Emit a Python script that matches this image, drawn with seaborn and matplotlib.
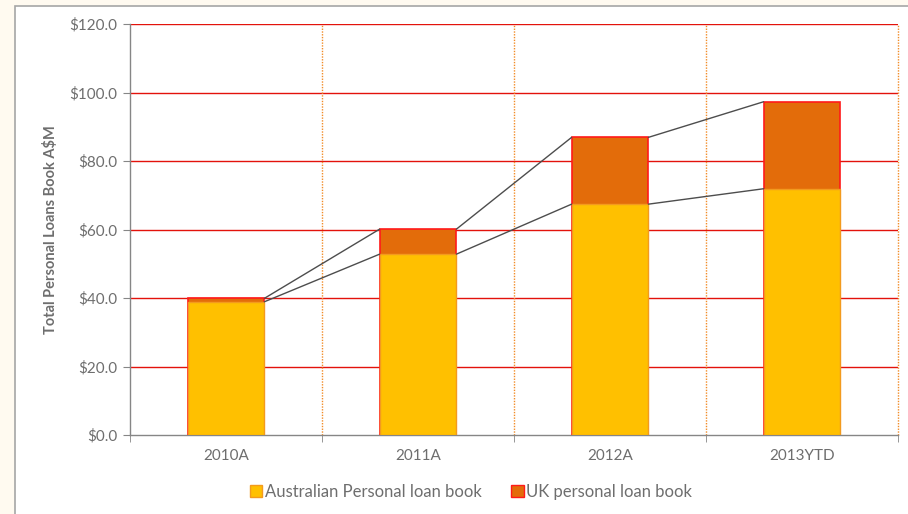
import seaborn as sns
import matplotlib.pyplot as plt
import matplotlib.patches as mpatches
from matplotlib.ticker import FixedLocator
import numpy as np

years = ['2010A', '2011A', '2012A', '2013YTD']
aus_book = [38.9, 52.8, 67.4, 71.9]
uk_book = [1.0, 7.3, 19.5, 25.4]
total_book = [a + u for a, u in zip(aus_book, uk_book)]

aus_fill = '#FFC000'
aus_edge = '#F39A1E'
uk_fill = '#E36C0A'
uk_edge = '#FF1A1A'
text_grey = '#6E6E6E'

sns.set_style('white')
plt.rcParams['font.family'] = ['Lato', 'DejaVu Sans']

fig = plt.figure(figsize=(9.08, 5.14), dpi=100, facecolor='#FFFAF0')
# white chart area with grey border (behind the axes)
fig.patches.append(mpatches.Rectangle((15 / 908, -0.1), 1.0, 1.1 - 6 / 514,
                                      transform=fig.transFigure, facecolor='white',
                                      edgecolor='#A6A6A6', linewidth=1.2, zorder=-10))
ax = fig.add_axes([130 / 908, 79 / 514, 768 / 908, 411 / 514])
ax.set_facecolor('none')

# stacked bars: total first (UK colour), Australian on top of it
sns.barplot(x=years, y=total_book, ax=ax, color=uk_fill, width=0.4,
            edgecolor=uk_edge, linewidth=1.2, saturation=1, zorder=3)
sns.barplot(x=years, y=aus_book, ax=ax, color=aus_fill, width=0.4,
            edgecolor=aus_edge, linewidth=1.0, saturation=1, zorder=4)

# connector lines between bars
for i in range(len(years) - 1):
    for vals in (aus_book, total_book):
        ax.plot([i + 0.2, i + 0.8], [vals[i], vals[i + 1]], color='#4D4D4D',
                linewidth=1.0, zorder=5)

ax.set_xlim(-0.5, 3.5)
ax.set_ylim(0, 120)
ax.set_yticks(np.arange(0, 121, 20))
ax.set_yticklabels(['${:.1f}'.format(v) for v in np.arange(0, 121, 20)])

for y in np.arange(20, 121, 20):
    ax.axhline(y, color='#E3120B', linewidth=1.0, zorder=1)
for x in [0.5, 1.5, 2.5, 3.5]:
    ax.axvline(x, color='#F28C28', linewidth=1.0, linestyle=(0, (1, 1)),
               zorder=1, clip_on=False)

ax.xaxis.set_minor_locator(FixedLocator([-0.5, 0.5, 1.5, 2.5, 3.5]))
ax.tick_params(axis='x', which='major', length=0, pad=10, labelsize=11, labelcolor=text_grey)
ax.tick_params(axis='x', which='minor', length=5, color='#868686', direction='out', bottom=True)
ax.tick_params(axis='y', length=5, color='#868686', direction='out', left=True,
               labelsize=11, labelcolor=text_grey, pad=4)

for side in ['top', 'right']:
    ax.spines[side].set_visible(False)
for side in ['left', 'bottom']:
    ax.spines[side].set_color('#868686')
    ax.spines[side].set_linewidth(1.0)

ax.set_ylabel('Total Personal Loans Book A$M', fontsize=10.5, fontweight='bold',
              color=text_grey, labelpad=8)

handles = [mpatches.Patch(facecolor=aus_fill, edgecolor=aus_edge, label='Australian Personal loan book'),
           mpatches.Patch(facecolor=uk_fill, edgecolor=uk_edge, label='UK personal loan book')]
leg = fig.legend(handles=handles, loc='center', bbox_to_anchor=(471 / 908, 22 / 514), ncol=2,
                 frameon=False, fontsize=12, handlelength=0.75, handleheight=0.75,
                 handletextpad=0.15, columnspacing=1.8)
for t in leg.get_texts():
    t.set_color(text_grey)

plt.savefig('out.png', dpi=100, facecolor=fig.get_facecolor())
